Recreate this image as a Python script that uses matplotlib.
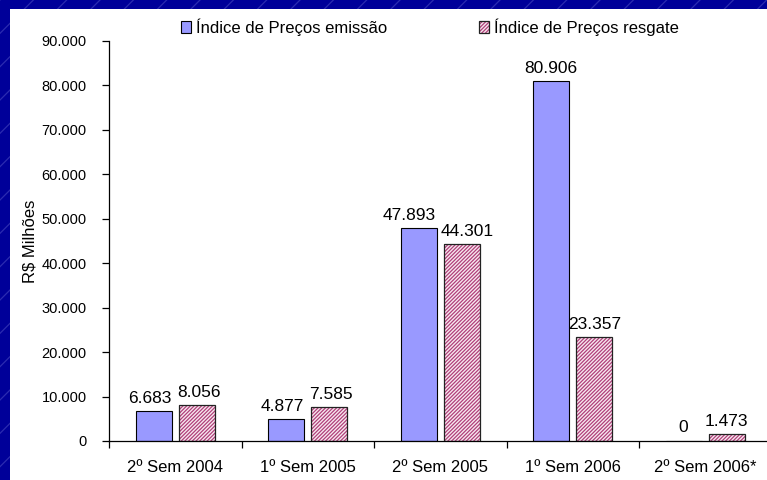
import matplotlib
matplotlib.use("Agg")
import matplotlib.pyplot as plt
from matplotlib.patches import Rectangle
from matplotlib.legend_handler import HandlerTuple
import numpy as np

categories = ["2º Sem 2004", "1º Sem 2005", "2º Sem 2005", "1º Sem 2006", "2º Sem 2006*"]
emissao = [6683, 4877, 47893, 80906, 0]
resgate = [8056, 7585, 44301, 23357, 1473]
series_names = ["Índice de Preços emissão", "Índice de Preços resgate"]
yticks = [0, 10000, 20000, 30000, 40000, 50000, 60000, 70000, 80000, 90000]

def fmt(v):
    return f"{v:,.0f}".replace(",", ".")

plt.rcParams['font.family'] = ['Liberation Sans', 'DejaVu Sans']
plt.rcParams['hatch.linewidth'] = 0.9

W, H = 767, 480
fig = plt.figure(figsize=(W/100, H/100), dpi=100)
fig.patch.set_facecolor('#000099')

bg = Rectangle((0, 0), 1, 1, transform=fig.transFigure, facecolor='none',
               edgecolor='#2c2cb0', hatch='/', linewidth=0, zorder=-3)
fig.patches.append(bg)
panel = Rectangle((10/W, 0), 1, (H-9)/H, transform=fig.transFigure,
                  facecolor='white', edgecolor='none', zorder=-2)
fig.patches.append(panel)

ax = fig.add_axes([109/W, 39/H, 132.5*5/W, 400/H])
ax.set_facecolor('none')
x = np.arange(len(categories))
bw = 0.27
off = 0.163
b1 = ax.bar(x - off, emissao, bw, color='#9999FF', edgecolor='black', linewidth=0.8,
            zorder=3)
b2 = ax.bar(x + off, resgate, bw, facecolor='#f8e8f0', edgecolor='#b0407a', hatch='/////////',
            linewidth=0, zorder=3)
b2o = ax.bar(x + off, resgate, bw, facecolor='none', edgecolor='#222222', linewidth=0.9, zorder=4)

ax.set_xlim(-0.5, len(categories) - 0.5)
ax.set_ylim(0, 90000)

labels_l, labels_r = [], []
for xi, v in zip(x - off, emissao):
    labels_l.append(ax.annotate(fmt(v), (xi, v), xytext=(0, 4), textcoords='offset points',
                                ha='center', va='bottom', fontsize=12.5, color='black'))
for xi, v in zip(x + off, resgate):
    labels_r.append(ax.annotate(fmt(v), (xi, v), xytext=(0, 4), textcoords='offset points',
                                ha='center', va='bottom', fontsize=12.5, color='black'))

# nudge overlapping label pairs apart (like the spreadsheet does)
fig.canvas.draw()
r = fig.canvas.get_renderer()
for tl, tr in zip(labels_l, labels_r):
    bl = tl.get_window_extent(r)
    br = tr.get_window_extent(r)
    if bl.y1 + 12 > br.y0 and br.y1 + 12 > bl.y0:
        need = bl.x1 + 5 - br.x0
        if need > 0:
            pt = need * 72 / fig.dpi
            tl.set_position((-pt * 0.65, 4))
            tr.set_position((pt * 0.35, 4))

ax.set_yticks(yticks)
ax.set_yticklabels([fmt(v) for v in yticks], fontsize=10.5)
ax.set_xticks(np.arange(len(categories) + 1) - 0.5)
ax.set_xticklabels([])
ax.set_xticks(x, minor=True)
ax.set_xticklabels(categories, minor=True, fontsize=12)
ax.tick_params(axis='x', which='minor', length=0, pad=14)
ax.tick_params(axis='x', which='major', length=5, width=0.9, direction='out', color='black')
ax.tick_params(axis='y', length=5, width=0.9, direction='out', color='black', pad=11)
for s in ['top', 'right']:
    ax.spines[s].set_visible(False)
for s in ['left', 'bottom']:
    ax.spines[s].set_color('black')
    ax.spines[s].set_linewidth(0.9)
ax.spines['bottom'].set_zorder(5)
ax.set_ylabel("R$ Milhões", fontsize=12, labelpad=3)

h1 = b1.patches[0]
h2 = (b2.patches[0], b2o.patches[0])
leg = fig.legend(handles=[h1, h2], labels=series_names, loc='center left',
                 bbox_to_anchor=(173/W, 1 - 27/H), ncol=2, frameon=False,
                 fontsize=12, handlelength=0.6, handleheight=0.8,
                 handletextpad=0.3, columnspacing=5.5, borderpad=0,
                 handler_map={tuple: HandlerTuple(ndivide=1, pad=0)})

fig.savefig("out.png", dpi=100, facecolor=fig.get_facecolor())
